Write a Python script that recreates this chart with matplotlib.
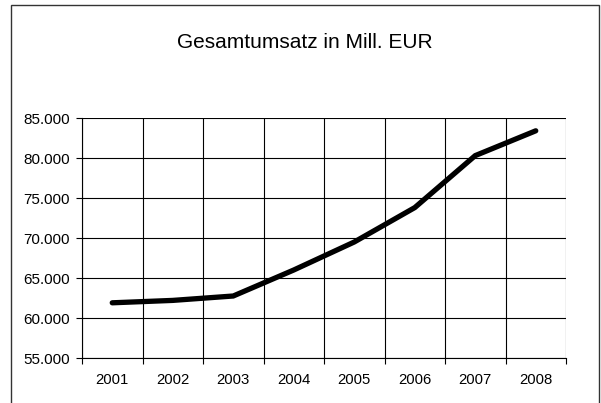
import matplotlib
matplotlib.use("Agg")
import matplotlib.pyplot as plt
from matplotlib.patches import Rectangle
from matplotlib.ticker import FuncFormatter, MultipleLocator, FixedLocator

years = ["2001", "2002", "2003", "2004", "2005", "2006", "2007", "2008"]
umsatz = [61900, 62200, 62750, 66000, 69500, 73800, 80300, 83400]
title = "Gesamtumsatz in Mill. EUR"

plt.rcParams['font.family'] = ['Liberation Sans', 'DejaVu Sans']

W, H = 601, 403
fig = plt.figure(figsize=(W / 100, H / 100), dpi=100)
fig.patch.set_facecolor("white")

# outer chart border (bottom runs off the image)
fig.patches.append(Rectangle((11 / W, -0.05), (599 - 11) / W, 1.05 - 5 / H,
                             transform=fig.transFigure, fill=False,
                             edgecolor="#333333", linewidth=1.0))

left, right, top, bottom = 82, 566, 118, 358
ax = fig.add_axes([left / W, 1 - bottom / H, (right - left) / W, (bottom - top) / H])

x = list(range(len(years)))
ax.plot(x, umsatz, color="black", linewidth=3.8, solid_capstyle="round",
        solid_joinstyle="miter", zorder=3)

ax.set_xlim(-0.5, len(years) - 0.5)
ax.set_ylim(55000, 85000)
ax.yaxis.set_major_locator(MultipleLocator(5000))
ax.yaxis.set_major_formatter(FuncFormatter(lambda v, p: f"{int(v):,}".replace(",", ".")))

# x tick marks at category boundaries, labels at category centres
ax.xaxis.set_major_locator(FixedLocator([i + 0.5 for i in range(-1, len(years))]))
ax.xaxis.set_major_formatter(FuncFormatter(lambda v, p: ""))
ax.set_xticks(x, minor=True)
ax.set_xticklabels(years, minor=True)
ax.tick_params(axis="x", which="minor", length=0, pad=10.5, labelsize=10.7)
ax.tick_params(axis="x", which="major", length=4, width=0.8, direction="out")
ax.tick_params(axis="y", length=4, width=0.8, direction="out", pad=4.5, labelsize=11)

ax.grid(True, which="major", color="black", linewidth=0.8)
for s in ["top", "right"]:
    ax.spines[s].set_visible(False)
for s in ["left", "bottom"]:
    ax.spines[s].set_linewidth(0.8)
ax.set_axisbelow(True)

fig.text(305 / W, 1 - 42 / H, title, ha="center", va="center", fontsize=15)

fig.savefig("out.png", dpi=100)
